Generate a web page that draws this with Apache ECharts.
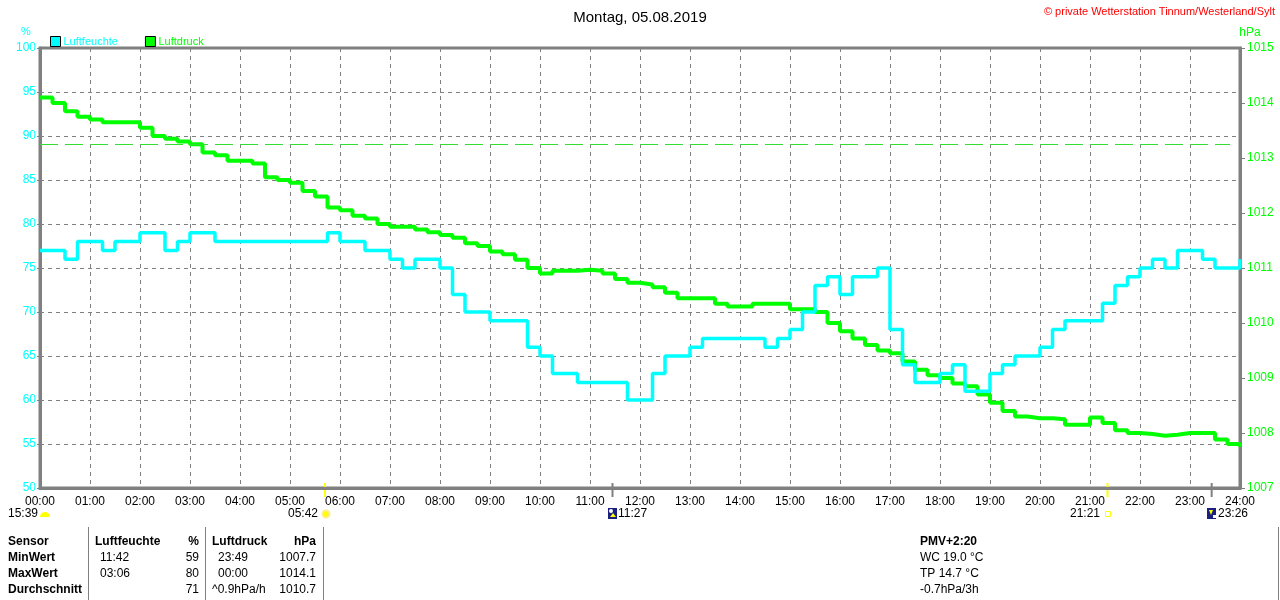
<!DOCTYPE html>
<html>
<head>
<meta charset="utf-8">
<title>Wetterstation Tinnum</title>
<script src="https://cdn.jsdelivr.net/npm/echarts@6/dist/echarts.min.js"></script>
<style>
  html, body { margin: 0; padding: 0; background: #fff; }
  #main { width: 1280px; height: 600px; }
</style>
</head>
<body>
<div id="main"></div>
<script>
// Messwerte alle 15 Minuten (00:00 .. 24:00)
var hourLabels = ['00:00','01:00','02:00','03:00','04:00','05:00','06:00','07:00','08:00','09:00','10:00','11:00',
  '12:00','13:00','14:00','15:00','16:00','17:00','18:00','19:00','20:00','21:00','22:00','23:00','24:00']
var luftfeuchte = [
  77, 77, 76, 78, 78, 77, 78, 78, 79, 79, 77, 78, 79, 79, 78, 78,
  78, 78, 78, 78, 78, 78, 78, 79, 78, 78, 77, 77, 76, 75, 76, 76,
  75, 72, 70, 70, 69, 69, 69, 66, 65, 63, 63, 62, 62, 62, 62, 60,
  60, 63, 65, 65, 66, 67, 67, 67, 67, 67, 66, 67, 68, 70, 73, 74,
  72, 74, 74, 75, 68, 64, 62, 62, 63, 64, 61, 61, 63, 64, 65, 65,
  66, 68, 69, 69, 69, 71, 73, 74, 75, 76, 75, 77, 77, 76, 75, 75, 76
]
var luftdruck = [
  1014.1, 1014.0, 1013.85, 1013.75, 1013.7, 1013.65, 1013.65, 1013.65,
  1013.55, 1013.4, 1013.35, 1013.3, 1013.25, 1013.1, 1013.05, 1012.95,
  1012.95, 1012.9, 1012.65, 1012.6, 1012.55, 1012.4, 1012.3, 1012.1,
  1012.05, 1011.95, 1011.9, 1011.8, 1011.75, 1011.75, 1011.7, 1011.65,
  1011.6, 1011.55, 1011.45, 1011.4, 1011.3, 1011.25, 1011.15, 1011.0,
  1010.9, 1010.95, 1010.95, 1010.97, 1010.95, 1010.9, 1010.8, 1010.73,
  1010.7, 1010.65, 1010.55, 1010.45, 1010.45, 1010.45, 1010.35, 1010.3,
  1010.3, 1010.35, 1010.35, 1010.35, 1010.25, 1010.25, 1010.2, 1010.0,
  1009.85, 1009.72, 1009.6, 1009.5, 1009.45, 1009.3, 1009.15, 1009.05,
  1009.0, 1008.9, 1008.85, 1008.7, 1008.55, 1008.4, 1008.3, 1008.27,
  1008.27, 1008.25, 1008.15, 1008.15, 1008.28, 1008.18, 1008.05, 1008.0,
  1007.98, 1007.95, 1007.97, 1008.0, 1008.0, 1008.0, 1007.88, 1007.8, 1007.75
]
var normalDruck = 1013.25
// Sonnenaufgang, Mondaufgang, Sonnenuntergang, Monduntergang (Stunden)
var astroTimes = [5.7, 11.45, 21.35, 23.433]
var astroColors = ['#ffff00', '#808080', '#ffff00', '#808080']

var cyan = '#00ffff'
var green = '#00ff00'
var gray = '#808080'
var font = 'Liberation Sans, Arial, sans-serif'

function toPairs(arr) {
  var out = []
  for (var i = 0; i < arr.length; i++) out.push([i * 0.25, arr[i]])
  return out
}

var chart = echarts.init(document.getElementById('main'))

var option = {
  backgroundColor: '#ffffff',
  animation: false,
  textStyle: { fontFamily: font },
  title: {
    text: 'Montag, 05.08.2019',
    left: 'center',
    top: 5,
    textStyle: { fontSize: 15, fontWeight: 'normal', color: '#000', fontFamily: font }
  },
  legend: {
    left: 45,
    top: 31,
    itemWidth: 10,
    itemHeight: 10,
    itemGap: 27,
    icon: 'rect',
    textStyle: { fontSize: 11, fontFamily: font, padding: [0, 0, 0, -2] },
    data: [
      { name: 'Luftfeuchte', textStyle: { color: cyan }, itemStyle: { borderColor: '#000', borderWidth: 1 } },
      { name: 'Luftdruck', textStyle: { color: green }, itemStyle: { borderColor: '#000', borderWidth: 1 } }
    ]
  },
  grid: { left: 40, right: 40, top: 48, bottom: 112, containLabel: false,
    show: true, borderColor: gray, borderWidth: 3, backgroundColor: 'transparent' },
  xAxis: {
    type: 'value',
    min: 0,
    max: 24,
    interval: 1,
    axisLine: { lineStyle: { color: gray, width: 3 } },
    axisTick: { show: false },
    axisLabel: {
      color: '#000',
      fontSize: 12,
      margin: 8,
      formatter: function (v) { return hourLabels[Math.round(v)] }
    },
    splitLine: { show: true, lineStyle: { color: gray, type: [4, 4], width: 1 } }
  },
  yAxis: [
    {
      type: 'value',
      min: 50,
      max: 100,
      interval: 5,
      position: 'left',
      axisLine: { show: true, lineStyle: { color: gray, width: 3 } },
      axisTick: { show: true, length: 3, lineStyle: { color: gray } },
      axisLabel: { color: cyan, fontSize: 12, margin: 4 },
      splitLine: { show: true, lineStyle: { color: gray, type: [4, 4], width: 1 } }
    },
    {
      type: 'value',
      min: 1007,
      max: 1015,
      interval: 1,
      position: 'right',
      axisLine: { show: true, lineStyle: { color: gray, width: 3 } },
      axisTick: { show: true, length: 5, lineStyle: { color: gray } },
      axisLabel: { color: green, fontSize: 12, margin: 7, formatter: function (v) { return String(v) } },
      splitLine: { show: false }
    }
  ],
  series: [
    {
      name: 'Luftdruck',
      type: 'line',
      yAxisIndex: 1,
      step: 'end',
      showSymbol: false,
      color: green,
      lineStyle: { color: green, width: 4 },
      data: toPairs(luftdruck),
      markLine: {
        silent: true,
        symbol: 'none',
        label: { show: false },
        lineStyle: { color: '#33dd33', type: [18, 7], width: 1 },
        data: [[{ coord: [0, normalDruck] }, { coord: [23.8, normalDruck] }]]
      }
    },
    {
      name: 'Luftfeuchte',
      type: 'line',
      yAxisIndex: 0,
      step: 'end',
      showSymbol: false,
      color: cyan,
      lineStyle: { color: cyan, width: 3.5 },
      data: toPairs(luftfeuchte)
    }
  ]
}
chart.setOption(option)

// Beschriftungen und Tabelle unter dem Diagramm
var g = []
function txt(x, y, s, opt) {
  opt = opt || {}
  g.push({
    type: 'text', x: x, y: y,
    style: {
      text: s, fill: opt.color || '#000', font: (opt.bold ? 'bold ' : '') + (opt.size || 12) + 'px ' + font,
      textAlign: opt.align || 'left', textVerticalAlign: 'middle'
    }
  })
}
function vline(x, y1, y2, color, w) {
  g.push({ type: 'line', shape: { x1: x, y1: y1, x2: x, y2: y2 }, style: { stroke: color, lineWidth: w || 1 } })
}

txt(1275, 12, '\u00a9 private Wetterstation Tinnum/Westerland/Sylt', { color: '#ff0000', size: 11, align: 'right' })
txt(26, 32, '%', { color: cyan, size: 11, align: 'center' })
txt(1250, 33, 'hPa', { color: green, size: 12, align: 'center' })

// Astro-Marken an der Zeitachse
var yAxisPx = chart.convertToPixel({ gridIndex: 0 }, [0, 50])[1]
astroTimes.forEach(function (t, i) {
  var px = chart.convertToPixel({ xAxisIndex: 0, yAxisIndex: 0 }, [t, 50])[0]
  vline(px, yAxisPx - 5, yAxisPx + 9, astroColors[i], 2)
})

txt(38, 514, '15:39', { align: 'right' })
g.push({ type: 'sector', shape: { cx: 45, cy: 517, r0: 0, r: 5, startAngle: Math.PI, endAngle: 2 * Math.PI }, style: { fill: '#ffff00' } })
txt(318, 514, '05:42', { align: 'right' })
g.push({ type: 'circle', shape: { cx: 326, cy: 514, r: 3.5 }, style: { fill: '#ffff00', stroke: '#ffee88', lineWidth: 2 } })
g.push({ type: 'rect', shape: { x: 608, y: 508, width: 9, height: 11 }, style: { fill: '#1a2080' } })
g.push({ type: 'circle', shape: { cx: 611, cy: 511, r: 2 }, style: { fill: '#ffffff' } })
g.push({ type: 'polygon', shape: { points: [[613, 513], [616, 517], [610, 517]] }, style: { fill: '#ffff00' } })
txt(618, 514, '11:27')
txt(1100, 514, '21:21', { align: 'right' })
g.push({ type: 'rect', shape: { x: 1105.5, y: 511.5, width: 5, height: 5 }, style: { fill: 'none', stroke: '#ffff00', lineWidth: 1 } })
g.push({ type: 'rect', shape: { x: 1207, y: 508, width: 9, height: 11 }, style: { fill: '#1a2080' } })
g.push({ type: 'polygon', shape: { points: [[1209, 510], [1213, 510], [1211, 515]] }, style: { fill: '#ffff00' } })
g.push({ type: 'rect', shape: { x: 1213, y: 515, width: 3, height: 3 }, style: { fill: '#ffffff' } })
txt(1218, 514, '23:26')

// Tabelle
vline(88.5, 527, 600, gray)
vline(205.5, 527, 600, gray)
vline(323.5, 527, 600, gray)
vline(1278.5, 527, 600, gray)

var rows = [542, 558, 574, 590]
txt(8, rows[0], 'Sensor', { bold: true })
txt(8, rows[1], 'MinWert', { bold: true })
txt(8, rows[2], 'MaxWert', { bold: true })
txt(8, rows[3], 'Durchschnitt', { bold: true })

txt(95, rows[0], 'Luftfeuchte', { bold: true })
txt(199, rows[0], '%', { bold: true, align: 'right' })
txt(100, rows[1], '11:42')
txt(199, rows[1], '59', { align: 'right' })
txt(100, rows[2], '03:06')
txt(199, rows[2], '80', { align: 'right' })
txt(199, rows[3], '71', { align: 'right' })

txt(212, rows[0], 'Luftdruck', { bold: true })
txt(316, rows[0], 'hPa', { bold: true, align: 'right' })
txt(218, rows[1], '23:49')
txt(316, rows[1], '1007.7', { align: 'right' })
txt(218, rows[2], '00:00')
txt(316, rows[2], '1014.1', { align: 'right' })
txt(212, rows[3], '^0.9hPa/h')
txt(316, rows[3], '1010.7', { align: 'right' })

txt(920, rows[0], 'PMV+2:20', { bold: true })
txt(920, rows[1], 'WC 19.0 \u00b0C')
txt(920, rows[2], 'TP 14.7 \u00b0C')
txt(920, rows[3], '-0.7hPa/3h')

chart.setOption({ graphic: g })
</script>
</body>
</html>
